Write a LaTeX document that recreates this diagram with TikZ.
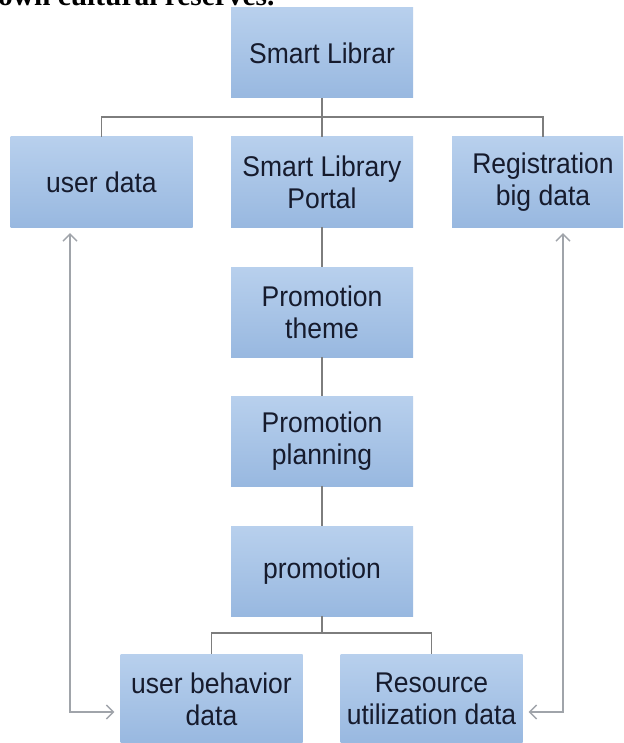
\documentclass[tikz,border=0pt]{standalone}
\usepackage{fontspec}
\setmainfont{Liberation Sans}
\newfontfamily\serifbold{Liberation Serif}
\newfontfamily\boxfont[FakeStretch=0.93]{Liberation Sans}
\usetikzlibrary{arrows.meta}
\definecolor{boxtop}{RGB}{184,208,237}
\definecolor{boxbot}{RGB}{152,184,224}
\definecolor{txt}{RGB}{22,27,45}
\definecolor{connc}{RGB}{125,125,125}
\definecolor{arrc}{RGB}{160,164,170}
\tikzset{
  box/.style={minimum width=182pt, minimum height=90pt, inner sep=0pt, align=center,
    top color=boxtop, bottom color=boxbot, draw=none, text=txt,
    font=\boxfont\fontsize{28.5}{32}\selectfont},
  conn/.style={draw=connc, line width=1.4pt},
  arrline/.style={draw=arrc, line width=1.3pt, {Straight Barb[length=7pt,width=14pt]}-{Straight Barb[length=7pt,width=14pt]}, shorten <=6pt, shorten >=6pt}
}
\begin{document}
\begin{tikzpicture}[x=1pt,y=-1pt]
\useasboundingbox (0,0) rectangle (623,743);
\clip (0,0) rectangle (623,743);
\fill[white] (0,0) rectangle (623,743);
\node[anchor=base west, inner sep=0pt, font=\serifbold\bfseries\fontsize{29.4}{34}\selectfont] (cut) at (-2,6) {own cultural reserves.};
\node[box] (top) at (322,53) {Smart Librar};
\node[box] (udata) at (101.5,182) {user data};
\node[box] (portal) at (322,182) {Smart Library\\Portal};
\node[box] (reg) at (543,182) {Registration\\big data};
\node[box] (theme) at (322,312) {Promotion\\theme};
\node[box] (plan) at (322,441) {Promotion\\planning};
\node[box] (promo) at (322,571) {promotion};
\node[box] (ubeh) at (211.5,699) {user behavior\\data};
\node[box] (res) at (431.5,699) {Resource\\utilization data};
\coordinate (h1) at (322,117);
\coordinate (h2) at (322,633);
\coordinate (lc) at (70,712);
\coordinate (rc) at (563,712);
\draw[conn] (top) -- (portal);
\draw[conn] (udata.north) |- (h1) -| (reg.north);
\draw[conn] (portal) -- (theme);
\draw[conn] (theme) -- (plan);
\draw[conn] (plan) -- (promo);
\draw[conn] (promo) -- (h2);
\draw[conn] (ubeh.north) |- (h2) -| (res.north);
\draw[arrline] (udata.south -| lc) -- (lc) -- (ubeh.west |- lc);
\draw[arrline] (reg.south -| rc) -- (rc) -- (res.east |- rc);
\end{tikzpicture}
\end{document}
